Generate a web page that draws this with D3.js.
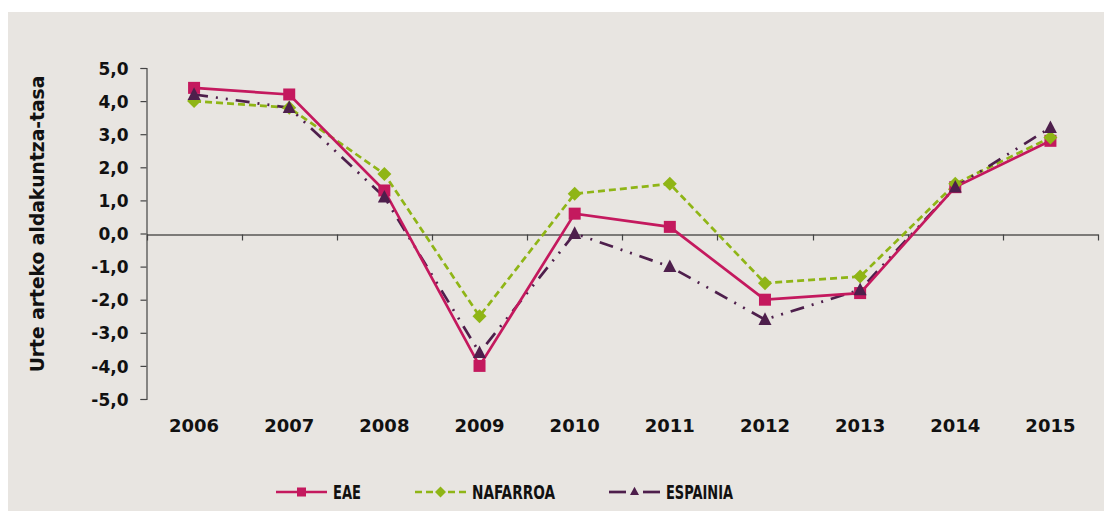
<!DOCTYPE html>
<html><head><meta charset="utf-8">
<script src="https://cdn.jsdelivr.net/npm/d3@7"></script>
<style>
html,body{margin:0;padding:0;background:#fff;}
svg{display:block;}
</style></head>
<body>
<svg id="chart" width="1104" height="511"></svg>
<script>
const years = ["2006","2007","2008","2009","2010","2011","2012","2013","2014","2015"];
const eae = [4.4, 4.2, 1.3, -4.0, 0.6, 0.2, -2.0, -1.8, 1.4, 2.8];
const nafarroa = [4.0, 3.8, 1.8, -2.5, 1.2, 1.5, -1.5, -1.3, 1.5, 2.9];
const espainia = [4.2, 3.8, 1.1, -3.6, 0.0, -1.0, -2.6, -1.7, 1.4, 3.2];
const yTicks = [5, 4, 3, 2, 1, 0, -1, -2, -3, -4, -5];
const seriesNames = ["EAE", "NAFARROA", "ESPAINIA"];
const yTitle = "Urte arteko aldakuntza-tasa";

const svg = d3.select("#chart");
const font = "'DejaVu Sans', sans-serif";
const legendFont = "'DejaVu Sans Condensed', 'DejaVu Sans', sans-serif";

svg.append("rect").attr("x", 8).attr("y", 12).attr("width", 1096).attr("height", 499).attr("fill", "#E8E5E1");

const x = d3.scaleBand().domain(years).range([146.5, 1098]);
const y = d3.scaleLinear().domain([-5, 5]).range([399, 68]);

// y axis
const yAxis = d3.axisLeft(y).tickValues(yTicks).tickSize(6).tickPadding(12)
  .tickFormat(d => d3.format(".1f")(d).replace(".", ",").replace("−", "-"));
const gy = svg.append("g").attr("transform", "translate(146.5,0)").call(yAxis);
gy.select(".domain").attr("stroke", "#444").attr("stroke-width", 1.2);
gy.selectAll(".tick line").attr("stroke", "#444").attr("stroke-width", 1.2);
gy.selectAll(".tick text").attr("font-family", font).attr("font-weight", 700)
  .attr("font-size", 17).attr("fill", "#111").attr("dy", "0.36em");

// x axis at zero
const xAxis = d3.axisBottom(x).tickSize(0).tickFormat("");
const gx = svg.append("g").attr("transform", `translate(0,${Math.round(y(0))+0.5})`).call(xAxis);
gx.select(".domain").attr("stroke", "#111").attr("stroke-width", 1.2);
const bounds = years.map(d => x(d)).concat([x.range()[1]]);
gx.selectAll(".bt").data(bounds).enter().append("line")
  .attr("x1", d => Math.round(d)+0.5).attr("x2", d => Math.round(d)+0.5)
  .attr("y1", 0).attr("y2", 6).attr("stroke", "#444").attr("stroke-width", 1.2);

// year labels
svg.append("g").selectAll("text").data(years).enter().append("text")
  .attr("x", d => x(d) + x.bandwidth()/2).attr("y", 432)
  .attr("text-anchor", "middle").attr("font-family", font).attr("font-weight", 700)
  .attr("font-size", 18).attr("fill", "#111").text(d => d);

// y title
const yt = svg.append("text").attr("transform", "translate(44,224) rotate(-90)")
  .attr("text-anchor", "middle").attr("font-family", font).attr("font-weight", 700)
  .attr("font-size", 17).attr("fill", "#111").text(yTitle);
const ytl = yt.node().getComputedTextLength();
yt.attr("font-size", 17 * 297 / ytl);

const series = [
  {name: seriesNames[0], values: eae, color: "#C4195E", dash: null, marker: "square"},
  {name: seriesNames[1], values: nafarroa, color: "#8FB516", dash: "7,4", marker: "diamond"},
  {name: seriesNames[2], values: espainia, color: "#4E1F4C", dash: "14,8,2,8,2,8", marker: "triangle"}
];

const cx = d => x(d) + x.bandwidth()/2;
const line = d3.line().x((v, i) => cx(years[i])).y(v => y(v));

function marker(g, type, color, px, py, s) {
  if (type === "square") {
    g.append("rect").attr("x", px - s/2).attr("y", py - s/2).attr("width", s).attr("height", s).attr("fill", color);
  } else if (type === "diamond") {
    const r = s/2 + 1;
    g.append("path").attr("d", `M${px},${py-r}L${px+r},${py}L${px},${py+r}L${px-r},${py}Z`).attr("fill", color);
  } else {
    const h = s;
    g.append("path").attr("d", `M${px},${py-h*0.6}L${px+s/2+0.5},${py+h*0.45}L${px-s/2-0.5},${py+h*0.45}Z`).attr("fill", color);
  }
}

const order = [1, 2, 0];
order.forEach(k => {
  const s = series[k];
  svg.append("path").datum(s.values).attr("d", line).attr("fill", "none")
    .attr("stroke", s.color).attr("stroke-width", 2.7)
    .attr("stroke-dasharray", s.dash);
});
[0, 1, 2].forEach(k => {
  const s = series[k];
  const g = svg.append("g");
  s.values.forEach((v, i) => marker(g, s.marker, s.color, cx(years[i]), y(v), 12));
});

// legend
const legX = [276, 415, 609];
const legW = [28, 83, 67];
const legY = 492;
series.forEach((s, k) => {
  const g = svg.append("g");
  const x0 = legX[k], x1 = x0 + 51, mid = x0 + 25.5;
  if (k === 2) {
    g.append("line").attr("x1", x0).attr("x2", x0 + 17).attr("y1", legY).attr("y2", legY).attr("stroke", s.color).attr("stroke-width", 2.7);
    g.append("line").attr("x1", x1 - 17).attr("x2", x1).attr("y1", legY).attr("y2", legY).attr("stroke", s.color).attr("stroke-width", 2.7);
    marker(g, s.marker, s.color, mid, legY - 0.5, 8);
  } else {
    g.append("line").attr("x1", x0).attr("x2", x1).attr("y1", legY).attr("y2", legY)
      .attr("stroke", s.color).attr("stroke-width", 2.7).attr("stroke-dasharray", s.dash);
    marker(g, s.marker, s.color, mid, legY, 9);
  }
  g.append("text").attr("x", x1 + 6).attr("y", legY).attr("dy", "0.36em")
    .attr("font-family", legendFont).attr("font-weight", 700).attr("font-size", 19.5)
    .attr("textLength", legW[k]).attr("lengthAdjust", "spacingAndGlyphs")
    .attr("fill", "#111").text(s.name);
});
</script>
</body></html>
